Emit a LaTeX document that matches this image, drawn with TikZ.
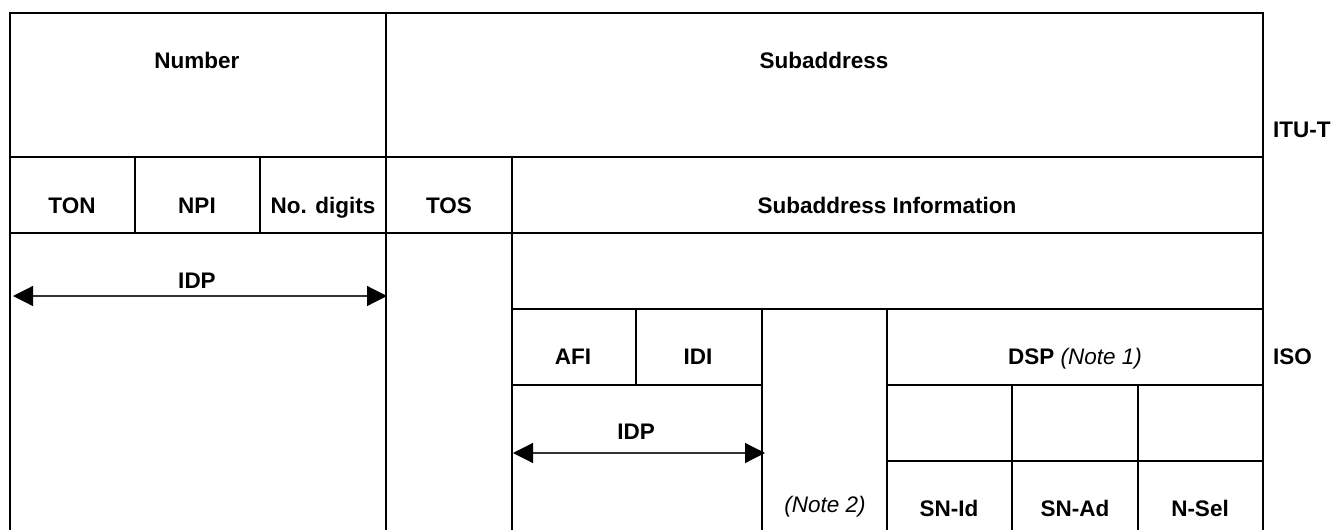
\documentclass[tikz,border=0pt]{standalone}
\usepackage{fontspec}
\setmainfont{Liberation Sans}
\usetikzlibrary{arrows.meta}
\begin{document}
\begin{tikzpicture}[x=1pt,y=-1pt,
  rule/.style={line width=1.4pt,line join=miter},
  lbl/.style={font=\fontsize{22.5}{27}\selectfont\bfseries,inner sep=0pt,anchor=base},
  side/.style={lbl,anchor=base west},
  notelbl/.style={font=\fontsize{22.5}{27}\selectfont\itshape,inner sep=0pt,anchor=base},
  span/.style={line width=1.2pt,draw=black!80,
    {Triangle[length=20pt,width=20pt,color=black]}-{Triangle[length=20pt,width=20pt,color=black]}}]
\useasboundingbox (0,0) rectangle (1333,530);

% outer frame and main horizontal rules
\draw[rule] (10,530) -- (10,13) -- (1263,13) -- (1263,530);
\draw[rule] (10,157) -- (1263,157);
\draw[rule] (10,233) -- (1263,233);
\draw[rule] (386,13) -- (386,530);
\draw[rule] (135,157) -- (135,233);
\draw[rule] (260,157) -- (260,233);
\draw[rule] (512,157) -- (512,530);

% ISO subaddress structure
\draw[rule] (512,309) -- (1263,309);
\draw[rule] (636,309) -- (636,385);
\draw[rule] (512,385) -- (762,385);
\draw[rule] (762,309) -- (762,530);
\draw[rule] (887,309) -- (887,530);
\draw[rule] (887,385) -- (1263,385);
\draw[rule] (887,461) -- (1263,461);
\draw[rule] (1012,385) -- (1012,530);
\draw[rule] (1138,385) -- (1138,530);

% labels
\node[lbl] (number) at (197,68) {Number};
\node[lbl] (subaddr) at (824,68) {Subaddress};
\node[side] (itut) at (1273,137) {ITU-T};
\node[lbl] (ton) at (72,213) {TON};
\node[lbl] (npi) at (197,213) {NPI};
\node[lbl] (ndig) at (323,213) {No. digits};
\node[lbl] (tos) at (449,213) {TOS};
\node[lbl] (subinfo) at (887,213) {Subaddress Information};
\node[lbl] (idpa) at (197,288) {IDP};
\node[lbl] (afi) at (573,364) {AFI};
\node[lbl] (idi) at (698,364) {IDI};
\node[lbl] (dsp) at (1075,364) {DSP \mdseries\itshape(Note 1)};
\node[side] (iso) at (1273,364) {ISO};
\node[lbl] (idpb) at (636,439) {IDP};
\node[notelbl] (note2) at (825,512) {(Note 2)};
\node[lbl] (snid) at (949,516) {SN-Id};
\node[lbl] (snad) at (1075,516) {SN-Ad};
\node[lbl] (nsel) at (1200,516) {N-Sel};

% IDP extents
\coordinate (idpaL) at (13,296);
\coordinate (idpaR) at (387,296);
\coordinate (idpbL) at (513,453);
\coordinate (idpbR) at (765,453);
\draw[span] (idpaL) -- (idpaR);
\draw[span] (idpbL) -- (idpbR);
\end{tikzpicture}
\end{document}
